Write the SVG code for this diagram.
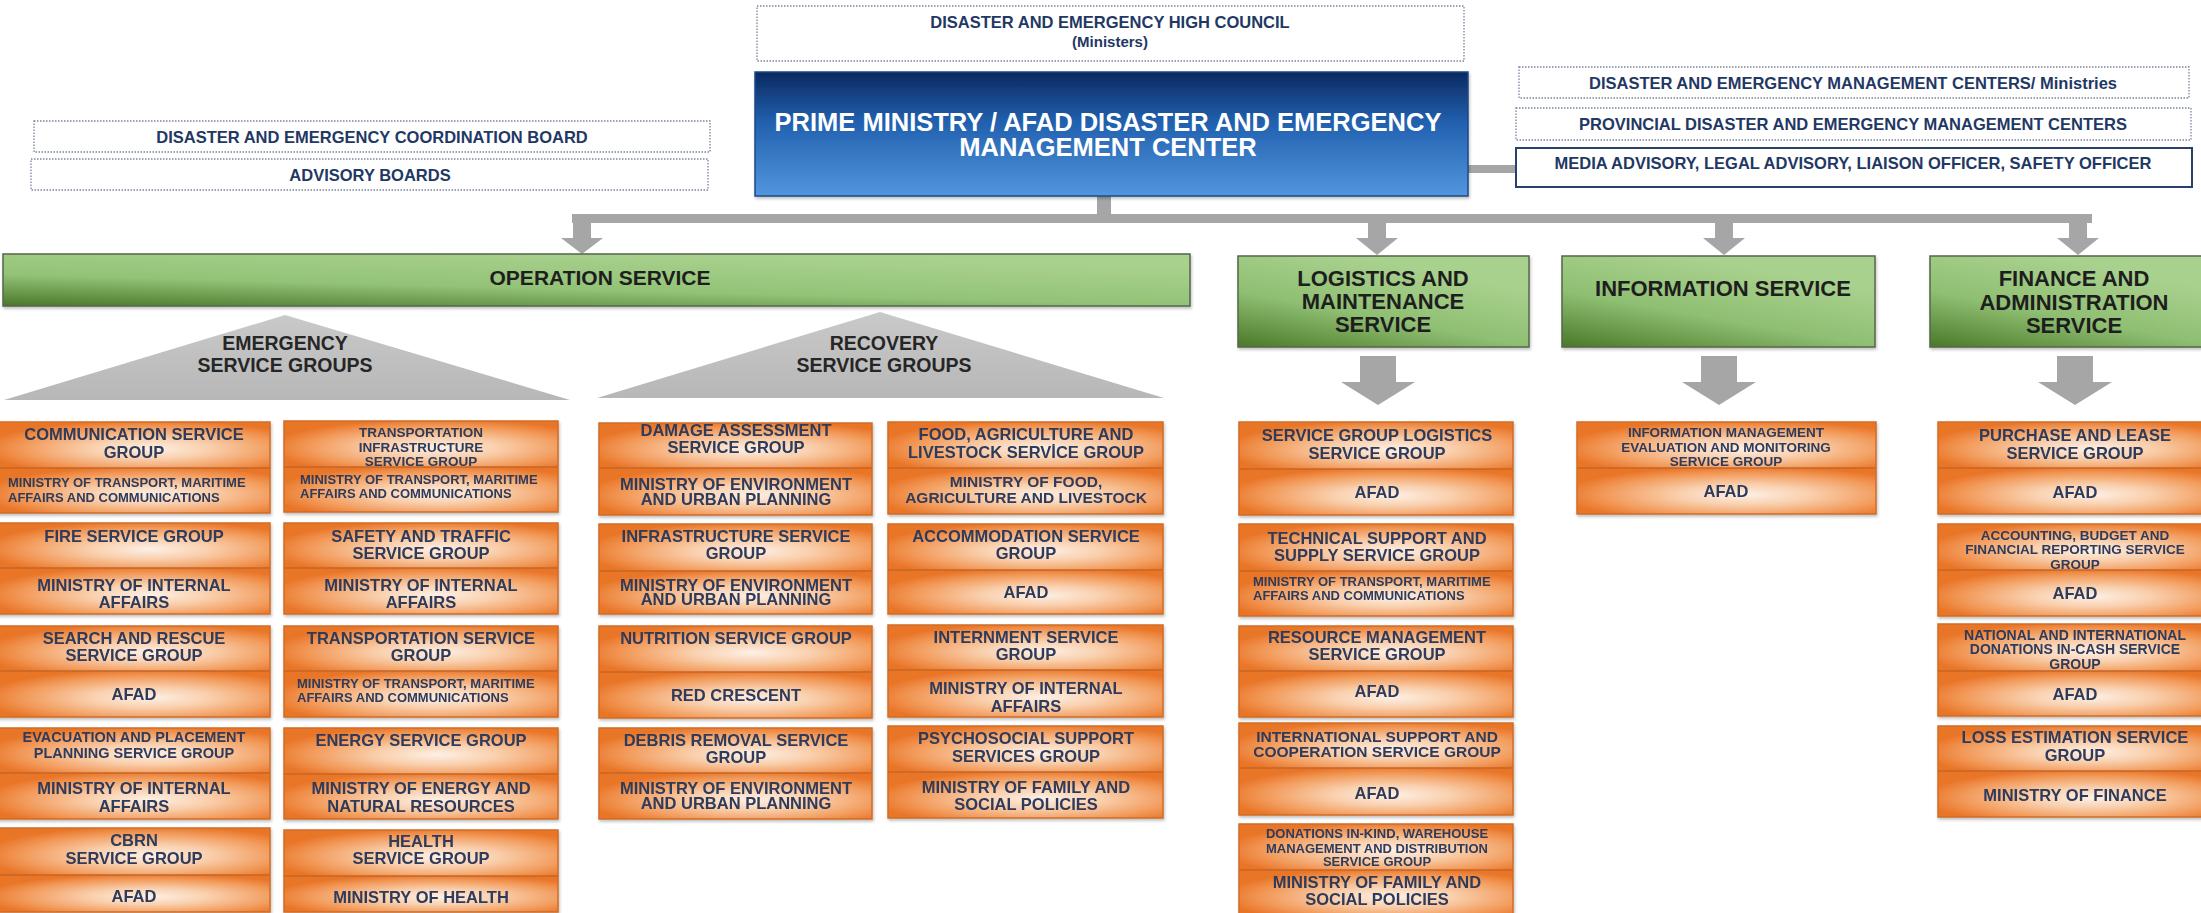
<svg xmlns="http://www.w3.org/2000/svg" width="2201" height="913" viewBox="0 0 2201 913">
<defs>
<radialGradient id="og" cx="0.56" cy="0.58" r="0.62" fx="0.56" fy="0.58">
<stop offset="0" stop-color="#fdf0e6"/>
<stop offset="0.35" stop-color="#f9d0ae"/>
<stop offset="0.75" stop-color="#f29a5a"/>
<stop offset="1" stop-color="#e97426"/>
</radialGradient>
<linearGradient id="gg" x1="0" y1="1" x2="0.55" y2="0.1">
<stop offset="0" stop-color="#4a7829"/>
<stop offset="0.5" stop-color="#8fbf72"/>
<stop offset="1" stop-color="#a9d18e"/>
</linearGradient>
<linearGradient id="opsg" x1="0" y1="1" x2="0.6" y2="0">
<stop offset="0" stop-color="#4a7829"/>
<stop offset="0.45" stop-color="#93c377"/>
<stop offset="1" stop-color="#a9d18e"/>
</linearGradient>
<linearGradient id="bg" x1="0" y1="0" x2="0" y2="1">
<stop offset="0" stop-color="#0b295f"/>
<stop offset="0.4" stop-color="#2160ae"/>
<stop offset="1" stop-color="#5296de"/>
</linearGradient>
<linearGradient id="tg" x1="0" y1="0" x2="0" y2="1">
<stop offset="0" stop-color="#c9c9c9"/>
<stop offset="1" stop-color="#b7b7b7"/>
</linearGradient>
<filter id="sh" x="-5%" y="-5%" width="110%" height="120%">
<feDropShadow dx="1" dy="2" stdDeviation="1.5" flood-color="#000" flood-opacity="0.25"/>
</filter>
</defs>
<style>
text{font-family:"Liberation Sans",Arial,sans-serif;font-weight:bold}
.sec{fill:url(#og)}
.frm{fill:none;stroke:#cf6d28;stroke-width:1.5}
.dv{stroke:#c4662a;stroke-width:1.5}
.o{font-size:16.5px;fill:#2d3a5a;text-anchor:middle}
.os{font-size:13.5px}
.ol{font-size:13px;text-anchor:start}
.g{fill:url(#gg);stroke:#56664b;stroke-width:1.5}
.gt{font-size:22px;fill:#1e1e1e;text-anchor:middle}
.dash{fill:#fff;stroke:#7a849c;stroke-width:1.3;stroke-dasharray:1.5 1.5}
.tt{font-size:16.5px;fill:#1f3864;text-anchor:middle}
.conn{fill:#a6a6a6}
.tri{fill:url(#tg)}
.trt{font-size:19.5px;fill:#262626;text-anchor:middle}
</style>
<rect width="2201" height="913" fill="#fff"/>

<g id="connectors">
<rect class="conn" x="1097" y="196" width="14" height="19"/>
<rect class="conn" x="572" y="214" width="1520" height="9"/>
<rect class="conn" x="1468" y="165" width="48" height="8"/>
<path class="conn" d="M573,223 h18 v15 h12 l-21,16 l-21,-16 h12 z"/>
<path class="conn" d="M1368,223 h18 v15 h12 l-21,17 l-21,-17 h12 z"/>
<path class="conn" d="M1715,223 h18 v15 h12 l-21,17 l-21,-17 h12 z"/>
<path class="conn" d="M2069,223 h18 v15 h12 l-21,17 l-21,-17 h12 z"/>
<path class="conn" d="M1360,356 h36 v26 h19 l-37,23 l-37,-23 h19 z"/>
<path class="conn" d="M1701,356 h36 v26 h19 l-37,23 l-37,-23 h19 z"/>
<path class="conn" d="M2057,356 h36 v26 h19 l-37,23 l-37,-23 h19 z"/>
</g>

<g id="high-council">
<rect class="dash" x="757" y="6" width="707" height="55"/>
<text class="tt" x="1110" y="28">DISASTER AND EMERGENCY HIGH COUNCIL</text>
<text class="tt" x="1110" y="47" style="font-size:15px">(Ministers)</text>
</g>
<g id="prime-ministry">
<rect x="755" y="72" width="713" height="124" fill="url(#bg)" stroke="#1d4a86" stroke-width="1.5" filter="url(#sh)"/>
<text x="1108" y="131" style="font-size:25.5px;fill:#fff;text-anchor:middle">PRIME MINISTRY / AFAD DISASTER AND EMERGENCY</text>
<text x="1108" y="156" style="font-size:25.5px;fill:#fff;text-anchor:middle">MANAGEMENT CENTER</text>
</g>
<g id="coordination-board">
<rect class="dash" x="34" y="121" width="676" height="31"/>
<text class="tt" x="372" y="143">DISASTER AND EMERGENCY COORDINATION BOARD</text>
</g>
<g id="advisory-boards">
<rect class="dash" x="31" y="159" width="677" height="31"/>
<text class="tt" x="370" y="181">ADVISORY BOARDS</text>
</g>
<g id="demc-ministries">
<rect class="dash" x="1519" y="67" width="670" height="31"/>
<text class="tt" x="1853" y="89">DISASTER AND EMERGENCY MANAGEMENT CENTERS/ Ministries</text>
</g>
<g id="provincial">
<rect class="dash" x="1516" y="108" width="675" height="32"/>
<text class="tt" x="1853" y="130">PROVINCIAL DISASTER AND EMERGENCY MANAGEMENT CENTERS</text>
</g>
<g id="media-advisory">
<rect x="1516" y="148" width="676" height="39" fill="#fff" stroke="#2a3f6a" stroke-width="2"/>
<text class="tt" x="1853" y="169">MEDIA ADVISORY, LEGAL ADVISORY, LIAISON OFFICER,  SAFETY OFFICER</text>
</g>

<g id="operation-service">
<rect x="3" y="254" width="1187" height="52" fill="url(#opsg)" stroke="#56664b" stroke-width="1.5" filter="url(#sh)"/>
<text class="gt" x="600" y="285" style="font-size:21px">OPERATION SERVICE</text>
</g>
<g id="logistics-service">
<rect class="g" x="1238" y="256" width="291" height="91" filter="url(#sh)"/>
<text class="gt" x="1383" y="286">LOGISTICS AND</text>
<text class="gt" x="1383" y="309">MAINTENANCE</text>
<text class="gt" x="1383" y="332">SERVICE</text>
</g>
<g id="information-service">
<rect class="g" x="1562" y="256" width="313" height="91" filter="url(#sh)"/>
<text class="gt" x="1723" y="296">INFORMATION SERVICE</text>
</g>
<g id="finance-service">
<rect class="g" x="1930" y="256" width="290" height="91" filter="url(#sh)"/>
<text class="gt" x="2074" y="286">FINANCE AND</text>
<text class="gt" x="2074" y="310">ADMINISTRATION</text>
<text class="gt" x="2074" y="333">SERVICE</text>
</g>

<g id="emergency-groups">
<polygon class="tri" points="285,315 570,400 4,400"/>
<text class="trt" x="285" y="350">EMERGENCY</text>
<text class="trt" x="285" y="372">SERVICE GROUPS</text>
</g>
<g id="recovery-groups">
<polygon class="tri" points="880,312 1164,398 597,398"/>
<text class="trt" x="884" y="350">RECOVERY</text>
<text class="trt" x="884" y="372">SERVICE GROUPS</text>
</g>

<!-- Emergency column 1 -->
<g id="communication" filter="url(#sh)">
<rect class="sec" x="-3" y="422" width="273" height="46"/><rect class="sec" x="-3" y="468" width="273" height="45"/>
<rect class="frm" x="-3" y="422" width="273" height="91"/><line class="dv" x1="-3" y1="468" x2="270" y2="468"/>
<text class="o" x="134" y="440">COMMUNICATION SERVICE</text><text class="o" x="134" y="458">GROUP</text>
<text class="o ol" x="8" y="487">MINISTRY OF TRANSPORT, MARITIME</text><text class="o ol" x="8" y="502">AFFAIRS AND COMMUNICATIONS</text>
</g>
<g id="fire" filter="url(#sh)">
<rect class="sec" x="-3" y="523" width="273" height="45"/><rect class="sec" x="-3" y="568" width="273" height="46"/>
<rect class="frm" x="-3" y="523" width="273" height="91"/><line class="dv" x1="-3" y1="568" x2="270" y2="568"/>
<text class="o" x="134" y="542">FIRE SERVICE GROUP</text>
<text class="o" x="134" y="591">MINISTRY OF INTERNAL</text><text class="o" x="134" y="608">AFFAIRS</text>
</g>
<g id="search-rescue" filter="url(#sh)">
<rect class="sec" x="-3" y="626" width="273" height="45"/><rect class="sec" x="-3" y="671" width="273" height="46"/>
<rect class="frm" x="-3" y="626" width="273" height="91"/><line class="dv" x1="-3" y1="671" x2="270" y2="671"/>
<text class="o" x="134" y="644">SEARCH AND RESCUE</text><text class="o" x="134" y="661">SERVICE GROUP</text>
<text class="o" x="134" y="700">AFAD</text>
</g>
<g id="evacuation" filter="url(#sh)">
<rect class="sec" x="-3" y="728" width="273" height="45"/><rect class="sec" x="-3" y="773" width="273" height="46"/>
<rect class="frm" x="-3" y="728" width="273" height="91"/><line class="dv" x1="-3" y1="773" x2="270" y2="773"/>
<text class="o" x="134" y="742" style="font-size:14.5px">EVACUATION AND PLACEMENT</text><text class="o" x="134" y="758" style="font-size:14.5px">PLANNING SERVICE GROUP</text>
<text class="o" x="134" y="794">MINISTRY OF INTERNAL</text><text class="o" x="134" y="812">AFFAIRS</text>
</g>
<g id="cbrn" filter="url(#sh)">
<rect class="sec" x="-3" y="828" width="273" height="47"/><rect class="sec" x="-3" y="875" width="273" height="37"/>
<rect class="frm" x="-3" y="828" width="273" height="84"/><line class="dv" x1="-3" y1="875" x2="270" y2="875"/>
<text class="o" x="134" y="846">CBRN</text><text class="o" x="134" y="864">SERVICE GROUP</text>
<text class="o" x="134" y="902">AFAD</text>
</g>

<!-- Emergency column 2 -->
<g id="transport-infrastructure" filter="url(#sh)">
<rect class="sec" x="284" y="421" width="274" height="46"/><rect class="sec" x="284" y="467" width="274" height="45"/>
<rect class="frm" x="284" y="421" width="274" height="91"/><line class="dv" x1="284" y1="467" x2="558" y2="467"/>
<text class="o os" x="421" y="437">TRANSPORTATION</text><text class="o os" x="421" y="452">INFRASTRUCTURE</text><text class="o os" x="421" y="466">SERVICE GROUP</text>
<text class="o ol" x="300" y="484">MINISTRY OF TRANSPORT, MARITIME</text><text class="o ol" x="300" y="498">AFFAIRS AND COMMUNICATIONS</text>
</g>
<g id="safety-traffic" filter="url(#sh)">
<rect class="sec" x="284" y="523" width="274" height="45"/><rect class="sec" x="284" y="568" width="274" height="46"/>
<rect class="frm" x="284" y="523" width="274" height="91"/><line class="dv" x1="284" y1="568" x2="558" y2="568"/>
<text class="o" x="421" y="542">SAFETY AND TRAFFIC</text><text class="o" x="421" y="559">SERVICE GROUP</text>
<text class="o" x="421" y="591">MINISTRY OF INTERNAL</text><text class="o" x="421" y="608">AFFAIRS</text>
</g>
<g id="transportation" filter="url(#sh)">
<rect class="sec" x="284" y="626" width="274" height="45"/><rect class="sec" x="284" y="671" width="274" height="46"/>
<rect class="frm" x="284" y="626" width="274" height="91"/><line class="dv" x1="284" y1="671" x2="558" y2="671"/>
<text class="o" x="421" y="644">TRANSPORTATION SERVICE</text><text class="o" x="421" y="661">GROUP</text>
<text class="o ol" x="297" y="688">MINISTRY OF TRANSPORT, MARITIME</text><text class="o ol" x="297" y="702">AFFAIRS AND COMMUNICATIONS</text>
</g>
<g id="energy" filter="url(#sh)">
<rect class="sec" x="284" y="728" width="274" height="46"/><rect class="sec" x="284" y="774" width="274" height="45"/>
<rect class="frm" x="284" y="728" width="274" height="91"/><line class="dv" x1="284" y1="774" x2="558" y2="774"/>
<text class="o" x="421" y="746">ENERGY SERVICE GROUP</text>
<text class="o" x="421" y="794">MINISTRY OF ENERGY AND</text><text class="o" x="421" y="812">NATURAL RESOURCES</text>
</g>
<g id="health" filter="url(#sh)">
<rect class="sec" x="284" y="830" width="274" height="46"/><rect class="sec" x="284" y="876" width="274" height="36"/>
<rect class="frm" x="284" y="830" width="274" height="82"/><line class="dv" x1="284" y1="876" x2="558" y2="876"/>
<text class="o" x="421" y="847">HEALTH</text><text class="o" x="421" y="864">SERVICE GROUP</text>
<text class="o" x="421" y="903">MINISTRY OF HEALTH</text>
</g>

<!-- Recovery column 1 -->
<g id="damage-assessment" filter="url(#sh)">
<rect class="sec" x="599" y="423" width="273" height="45"/><rect class="sec" x="599" y="468" width="273" height="47"/>
<rect class="frm" x="599" y="423" width="273" height="92"/><line class="dv" x1="599" y1="468" x2="872" y2="468"/>
<text class="o" x="736" y="436">DAMAGE ASSESSMENT</text><text class="o" x="736" y="453">SERVICE GROUP</text>
<text class="o" x="736" y="490">MINISTRY OF ENVIRONMENT</text><text class="o" x="736" y="505">AND URBAN PLANNING</text>
</g>
<g id="infrastructure" filter="url(#sh)">
<rect class="sec" x="599" y="524" width="273" height="47"/><rect class="sec" x="599" y="571" width="273" height="43"/>
<rect class="frm" x="599" y="524" width="273" height="90"/><line class="dv" x1="599" y1="571" x2="872" y2="571"/>
<text class="o" x="736" y="542">INFRASTRUCTURE SERVICE</text><text class="o" x="736" y="559">GROUP</text>
<text class="o" x="736" y="591">MINISTRY OF ENVIRONMENT</text><text class="o" x="736" y="605">AND URBAN PLANNING</text>
</g>
<g id="nutrition" filter="url(#sh)">
<rect class="sec" x="599" y="626" width="273" height="46"/><rect class="sec" x="599" y="672" width="273" height="46"/>
<rect class="frm" x="599" y="626" width="273" height="92"/><line class="dv" x1="599" y1="672" x2="872" y2="672"/>
<text class="o" x="736" y="644">NUTRITION SERVICE GROUP</text>
<text class="o" x="736" y="701">RED CRESCENT</text>
</g>
<g id="debris-removal" filter="url(#sh)">
<rect class="sec" x="599" y="728" width="273" height="45"/><rect class="sec" x="599" y="773" width="273" height="46"/>
<rect class="frm" x="599" y="728" width="273" height="91"/><line class="dv" x1="599" y1="773" x2="872" y2="773"/>
<text class="o" x="736" y="746">DEBRIS REMOVAL SERVICE</text><text class="o" x="736" y="763">GROUP</text>
<text class="o" x="736" y="794">MINISTRY OF ENVIRONMENT</text><text class="o" x="736" y="809">AND URBAN PLANNING</text>
</g>

<!-- Recovery column 2 -->
<g id="food-agriculture" filter="url(#sh)">
<rect class="sec" x="888" y="422" width="275" height="46"/><rect class="sec" x="888" y="468" width="275" height="46"/>
<rect class="frm" x="888" y="422" width="275" height="92"/><line class="dv" x1="888" y1="468" x2="1163" y2="468"/>
<text class="o" x="1026" y="440">FOOD, AGRICULTURE AND</text><text class="o" x="1026" y="458">LIVESTOCK SERVİCE GROUP</text>
<text class="o" x="1026" y="487" style="font-size:15.5px">MINISTRY OF FOOD,</text><text class="o" x="1026" y="503" style="font-size:15.5px">AGRICULTURE AND LIVESTOCK</text>
</g>
<g id="accommodation" filter="url(#sh)">
<rect class="sec" x="888" y="524" width="275" height="46"/><rect class="sec" x="888" y="570" width="275" height="44"/>
<rect class="frm" x="888" y="524" width="275" height="90"/><line class="dv" x1="888" y1="570" x2="1163" y2="570"/>
<text class="o" x="1026" y="542">ACCOMMODATION SERVICE</text><text class="o" x="1026" y="559">GROUP</text>
<text class="o" x="1026" y="598">AFAD</text>
</g>
<g id="internment" filter="url(#sh)">
<rect class="sec" x="888" y="625" width="275" height="45"/><rect class="sec" x="888" y="670" width="275" height="47"/>
<rect class="frm" x="888" y="625" width="275" height="92"/><line class="dv" x1="888" y1="670" x2="1163" y2="670"/>
<text class="o" x="1026" y="643">INTERNMENT SERVICE</text><text class="o" x="1026" y="660">GROUP</text>
<text class="o" x="1026" y="694">MINISTRY OF INTERNAL</text><text class="o" x="1026" y="712">AFFAIRS</text>
</g>
<g id="psychosocial" filter="url(#sh)">
<rect class="sec" x="888" y="726" width="275" height="46"/><rect class="sec" x="888" y="772" width="275" height="46"/>
<rect class="frm" x="888" y="726" width="275" height="92"/><line class="dv" x1="888" y1="772" x2="1163" y2="772"/>
<text class="o" x="1026" y="744">PSYCHOSOCIAL SUPPORT</text><text class="o" x="1026" y="762">SERVICES GROUP</text>
<text class="o" x="1026" y="793">MINISTRY OF FAMILY AND</text><text class="o" x="1026" y="810">SOCIAL POLICIES</text>
</g>

<!-- Logistics column -->
<g id="sg-logistics" filter="url(#sh)">
<rect class="sec" x="1239" y="422" width="274" height="47"/><rect class="sec" x="1239" y="469" width="274" height="46"/>
<rect class="frm" x="1239" y="422" width="274" height="93"/><line class="dv" x1="1239" y1="469" x2="1513" y2="469"/>
<text class="o" x="1377" y="441">SERVICE GROUP LOGISTICS</text><text class="o" x="1377" y="459">SERVICE GROUP</text>
<text class="o" x="1377" y="498">AFAD</text>
</g>
<g id="technical-support" filter="url(#sh)">
<rect class="sec" x="1239" y="524" width="274" height="47"/><rect class="sec" x="1239" y="571" width="274" height="45"/>
<rect class="frm" x="1239" y="524" width="274" height="92"/><line class="dv" x1="1239" y1="571" x2="1513" y2="571"/>
<text class="o" x="1377" y="544">TECHNICAL SUPPORT AND</text><text class="o" x="1377" y="561">SUPPLY SERVICE GROUP</text>
<text class="o ol" x="1253" y="586">MINISTRY OF TRANSPORT, MARITIME</text><text class="o ol" x="1253" y="600">AFFAIRS AND COMMUNICATIONS</text>
</g>
<g id="resource-management" filter="url(#sh)">
<rect class="sec" x="1239" y="626" width="274" height="45"/><rect class="sec" x="1239" y="671" width="274" height="46"/>
<rect class="frm" x="1239" y="626" width="274" height="91"/><line class="dv" x1="1239" y1="671" x2="1513" y2="671"/>
<text class="o" x="1377" y="643">RESOURCE MANAGEMENT</text><text class="o" x="1377" y="660">SERVICE GROUP</text>
<text class="o" x="1377" y="697">AFAD</text>
</g>
<g id="international-support" filter="url(#sh)">
<rect class="sec" x="1239" y="723" width="274" height="45"/><rect class="sec" x="1239" y="768" width="274" height="47"/>
<rect class="frm" x="1239" y="723" width="274" height="92"/><line class="dv" x1="1239" y1="768" x2="1513" y2="768"/>
<text class="o" x="1377" y="742" style="font-size:15.5px">INTERNATIONAL SUPPORT AND</text><text class="o" x="1377" y="757" style="font-size:15.5px">COOPERATION SERVICE GROUP</text>
<text class="o" x="1377" y="799">AFAD</text>
</g>
<g id="donations-in-kind" filter="url(#sh)">
<rect class="sec" x="1239" y="824" width="274" height="46"/><rect class="sec" x="1239" y="870" width="274" height="46"/>
<rect class="frm" x="1239" y="824" width="274" height="92"/><line class="dv" x1="1239" y1="870" x2="1513" y2="870"/>
<text class="o" x="1377" y="838" style="font-size:13px">DONATIONS IN-KIND, WAREHOUSE</text><text class="o" x="1377" y="853" style="font-size:13px">MANAGEMENT AND DISTRIBUTION</text><text class="o" x="1377" y="866" style="font-size:13px">SERVICE GROUP</text>
<text class="o" x="1377" y="888">MINISTRY OF FAMILY AND</text><text class="o" x="1377" y="905">SOCIAL POLICIES</text>
</g>

<!-- Information column -->
<g id="information-management" filter="url(#sh)">
<rect class="sec" x="1577" y="422" width="299" height="46"/><rect class="sec" x="1577" y="468" width="299" height="46"/>
<rect class="frm" x="1577" y="422" width="299" height="92"/><line class="dv" x1="1577" y1="468" x2="1876" y2="468"/>
<text class="o os" x="1726" y="437">INFORMATION MANAGEMENT</text><text class="o os" x="1726" y="452">EVALUATION AND MONITORING</text><text class="o os" x="1726" y="466">SERVICE GROUP</text>
<text class="o" x="1726" y="497">AFAD</text>
</g>

<!-- Finance column -->
<g id="purchase-lease" filter="url(#sh)">
<rect class="sec" x="1938" y="422" width="274" height="46"/><rect class="sec" x="1938" y="468" width="274" height="46"/>
<rect class="frm" x="1938" y="422" width="274" height="92"/><line class="dv" x1="1938" y1="468" x2="2212" y2="468"/>
<text class="o" x="2075" y="441">PURCHASE AND LEASE</text><text class="o" x="2075" y="459">SERVICE GROUP</text>
<text class="o" x="2075" y="498">AFAD</text>
</g>
<g id="accounting" filter="url(#sh)">
<rect class="sec" x="1938" y="524" width="274" height="46"/><rect class="sec" x="1938" y="570" width="274" height="46"/>
<rect class="frm" x="1938" y="524" width="274" height="92"/><line class="dv" x1="1938" y1="570" x2="2212" y2="570"/>
<text class="o os" x="2075" y="540">ACCOUNTING, BUDGET AND</text><text class="o os" x="2075" y="554">FINANCIAL REPORTING SERVICE</text><text class="o os" x="2075" y="569">GROUP</text>
<text class="o" x="2075" y="599">AFAD</text>
</g>
<g id="donations-in-cash" filter="url(#sh)">
<rect class="sec" x="1938" y="624" width="274" height="47"/><rect class="sec" x="1938" y="671" width="274" height="45"/>
<rect class="frm" x="1938" y="624" width="274" height="92"/><line class="dv" x1="1938" y1="671" x2="2212" y2="671"/>
<text class="o" x="2075" y="640" style="font-size:14px">NATIONAL AND INTERNATIONAL</text><text class="o" x="2075" y="654" style="font-size:14px">DONATIONS IN-CASH SERVICE</text><text class="o" x="2075" y="669" style="font-size:14px">GROUP</text>
<text class="o" x="2075" y="700">AFAD</text>
</g>
<g id="loss-estimation" filter="url(#sh)">
<rect class="sec" x="1938" y="726" width="274" height="45"/><rect class="sec" x="1938" y="771" width="274" height="46"/>
<rect class="frm" x="1938" y="726" width="274" height="91"/><line class="dv" x1="1938" y1="771" x2="2212" y2="771"/>
<text class="o" x="2075" y="743">LOSS ESTIMATION SERVICE</text><text class="o" x="2075" y="761">GROUP</text>
<text class="o" x="2075" y="801">MINISTRY OF FINANCE</text>
</g>
</svg>
